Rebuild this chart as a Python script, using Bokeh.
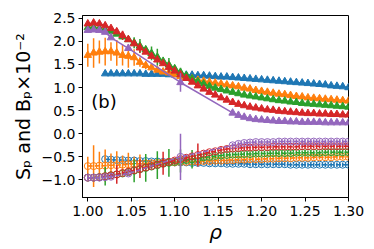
import numpy as np
from bokeh.plotting import figure
from bokeh.models import Range1d, FixedTicker, CustomJSTickFormatter, ColumnDataSource
from bokeh.core.properties import value
from bokeh.embed import file_html
from bokeh.resources import INLINE

# rho grid (46 points from 1.00 to 1.30)
rho = list(np.round(np.linspace(1.0, 1.3, 46), 5))

nan = float("nan")
# S_p (filled triangles, solid lines)
S_blue = [nan, nan, nan, 1.30, 1.30, 1.30, 1.30, 1.30, 1.30, 1.30, 1.29, 1.29, 1.29, 1.29, 1.28, 1.28,
          1.28, 1.27, 1.27, 1.26, 1.26, 1.25, 1.24, 1.23, 1.23, 1.22, 1.21, 1.20, 1.19, 1.18, 1.17,
          1.16, 1.15, 1.14, 1.13, 1.12, 1.11, 1.10, 1.09, 1.08, 1.07, 1.06, 1.04, 1.03, 1.02, 1.00]
S_orange = [1.70, 1.75, 1.77, 1.78, 1.78, 1.75, 1.70, 1.68, 1.65, 1.55, 1.48, 1.43, 1.38, 1.34, 1.32, 1.28,
            1.24, 1.21, 1.19, 1.16, 1.14, 1.12, 1.10, 1.08, 1.06, 1.04, 1.02, 0.99, 0.97, 0.94, 0.92,
            0.90, 0.88, 0.86, 0.85, 0.83, 0.81, 0.80, 0.78, 0.77, 0.76, 0.75, 0.74, 0.73, 0.72, 0.71]
S_green = [2.30, 2.30, 2.28, 2.25, 2.21, 2.16, 2.10, 2.04, 1.97, 1.90, 1.82, 1.74, 1.66, 1.57, 1.49, 1.41,
           1.33, 1.26, 1.19, 1.13, 1.08, 1.03, 0.99, 0.96, 0.93, 0.90, 0.87, 0.84, 0.82, 0.80, 0.78,
           0.76, 0.74, 0.72, 0.71, 0.69, 0.68, 0.66, 0.65, 0.64, 0.63, 0.62, 0.61, 0.60, 0.59, 0.58]
S_red = [2.38, 2.40, 2.38, 2.34, 2.28, 2.21, 2.13, 2.04, 1.95, 1.86, 1.77, 1.68, 1.60, 1.52, 1.44, 1.36,
         1.28, 1.20, 1.12, 1.04, 0.97, 0.90, 0.84, 0.78, 0.73, 0.68, 0.64, 0.61, 0.58, 0.56, 0.54,
         0.52, 0.51, 0.49, 0.48, 0.47, 0.46, 0.45, 0.44, 0.44, 0.43, 0.43, 0.42, 0.42, 0.41, 0.41]
S_purple = [2.24, 2.25, 2.24, 2.20, 2.08, nan, nan, 1.85, nan, nan, nan, nan, nan, nan, nan, nan,
            1.11, nan, nan, nan, nan, nan, nan, nan, nan, 0.45, 0.40, 0.36, 0.33, 0.31, 0.30,
            0.29, 0.28, 0.27, 0.27, 0.26, 0.26, 0.25, 0.25, 0.25, 0.25, 0.24, 0.24, 0.24, 0.24, 0.24]

# B_p (open circles, dashed lines)
B_blue = [nan, nan, nan, -0.55, -0.56, -0.57, -0.57, -0.58, -0.58, -0.59, -0.59, -0.60, -0.60, -0.61, -0.61, -0.62,
          -0.62, -0.62, -0.63, -0.63, -0.63, -0.64, -0.64, -0.64, -0.65, -0.65, -0.65, -0.65, -0.66, -0.66, -0.66,
          -0.66, -0.66, -0.66, -0.66, -0.67, -0.67, -0.67, -0.67, -0.67, -0.67, -0.67, -0.67, -0.67, -0.67, -0.67]
B_orange = [-0.70, -0.70, -0.69, -0.69, -0.68, -0.68, -0.67, -0.66, -0.65, -0.65, -0.64, -0.64, -0.63, -0.63, -0.62, -0.62,
            -0.61, -0.61, -0.60, -0.60, -0.59, -0.59, -0.58, -0.58, -0.57, -0.57, -0.56, -0.56, -0.55, -0.55, -0.55,
            -0.54, -0.54, -0.53, -0.53, -0.53, -0.52, -0.52, -0.52, -0.51, -0.51, -0.51, -0.51, -0.50, -0.50, -0.50]
B_green = [-0.95, -0.95, -0.94, -0.92, -0.90, -0.88, -0.86, -0.83, -0.80, -0.77, -0.74, -0.71, -0.68, -0.65, -0.63, -0.61,
           -0.59, -0.57, -0.55, -0.53, -0.51, -0.50, -0.48, -0.47, -0.46, -0.45, -0.45, -0.44, -0.44, -0.43, -0.43,
           -0.43, -0.42, -0.42, -0.42, -0.42, -0.41, -0.41, -0.41, -0.41, -0.41, -0.40, -0.40, -0.40, -0.40, -0.40]
B_red = [-0.95, -0.95, -0.94, -0.92, -0.90, -0.88, -0.85, -0.82, -0.79, -0.76, -0.73, -0.70, -0.67, -0.64, -0.61, -0.58,
         -0.55, -0.52, -0.49, -0.46, -0.43, -0.40, -0.38, -0.35, -0.33, -0.32, -0.31, -0.30, -0.30, -0.29, -0.29,
         -0.29, -0.28, -0.28, -0.28, -0.28, -0.28, -0.27, -0.27, -0.27, -0.27, -0.27, -0.27, -0.27, -0.27, -0.27]
B_purple = [-0.95, -0.95, -0.95, -0.94, -0.93, nan, nan, -0.86, nan, nan, nan, nan, nan, nan, nan, nan,
            -0.50, nan, nan, nan, nan, nan, nan, nan, nan, -0.25, -0.22, -0.20, -0.19, -0.18, -0.18,
            -0.18, -0.18, -0.17, -0.17, -0.17, -0.17, -0.17, -0.17, -0.17, -0.17, -0.17, -0.17, -0.17, -0.17, -0.17]

# error bars (half-heights)
eS_blue = [0.02] * 46
eS_orange = [0.25, 0.32, 0.25, 0.30, 0.20, 0.28, 0.22, 0.25, 0.18, 0.10, 0.08] + [0.03] * 35
eS_green = [0.03] * 8 + [0.12, 0.15, 0.05, 0.15, 0.18, 0.05, 0.15, 0.05, 0.10] + [0.03] * 29
eS_red = [0.03] * 6 + [0.10, 0.03, 0.03, 0.10, 0.03, 0.03, 0.03, 0.03, 0.12] + [0.03] * 31
eS_purple = [0.03] * 16 + [0.20] + [0.03] * 29
eB_blue = [0.05] * 46
eB_orange = [0.20, 0.45, 0.30, 0.35, 0.25, 0.30, 0.20, 0.25, 0.15, 0.20, 0.08] + [0.05] * 35
eB_green = [0.05] * 3 + [0.20, 0.05, 0.05, 0.05, 0.05, 0.25, 0.05, 0.30, 0.05, 0.30, 0.05, 0.30, 0.05,
                         0.25, 0.05, 0.20] + [0.05] * 27
eB_red = [0.05] * 5 + [0.20, 0.05, 0.05, 0.05, 0.20, 0.05, 0.05, 0.05, 0.25, 0.05, 0.05, 0.05, 0.05, 0.05,
                       0.25] + [0.05] * 26
eB_purple = [0.05] * 16 + [0.50] + [0.05] * 29

colors = ["#1f77b4", "#ff7f0e", "#2ca02c", "#d62728", "#9467bd"]
S_all = [S_blue, S_orange, S_green, S_red, S_purple]
B_all = [B_blue, B_orange, B_green, B_red, B_purple]
eS_all = [eS_blue, eS_orange, eS_green, eS_red, eS_purple]
eB_all = [eB_blue, eB_orange, eB_green, eB_red, eB_purple]

p = figure(width=374, height=249, output_backend="svg", toolbar_location=None,
           x_range=Range1d(0.9939, 1.30), y_range=Range1d(-1.38, 2.56),
           min_border_left=82, min_border_right=26, min_border_top=15, min_border_bottom=52)
p.background_fill_color = "white"
p.border_fill_color = "white"
p.outline_line_color = "black"
p.outline_line_width = 1
p.grid.visible = False


def clean(xs, ys, es):
    xx, yy, ee = [], [], []
    for a, b, c in zip(xs, ys, es):
        if not np.isnan(b):
            xx.append(a); yy.append(b); ee.append(c)
    return xx, yy, ee


for c, S, B, eS, eB in zip(colors, S_all, B_all, eS_all, eB_all):
    # S_p
    xs, ys, es = clean(rho, S, eS)
    src = ColumnDataSource(dict(x=xs, y=ys, lo=[y - e for y, e in zip(ys, es)], hi=[y + e for y, e in zip(ys, es)]))
    p.line("x", "y", source=src, color=c, line_width=1.5)
    p.segment(x0="x", y0="lo", x1="x", y1="hi", source=src, color=c, line_width=1.5)
    p.scatter("x", "y", source=src, marker="triangle", size=7.5, fill_color=c, line_color=c)
    # B_p
    xs, ys, es = clean(rho, B, eB)
    src = ColumnDataSource(dict(x=xs, y=ys, lo=[y - e for y, e in zip(ys, es)], hi=[y + e for y, e in zip(ys, es)]))
    p.line("x", "y", source=src, color=c, line_width=1.5, line_dash="5 2")
    p.segment(x0="x", y0="lo", x1="x", y1="hi", source=src, color=c, line_width=1.5)
    p.scatter("x", "y", source=src, marker="circle", size=7, fill_color=None, line_color=c, line_width=1)

p.text(x=[1.004], y=[0.69], text=["(b)"], text_font=value("DejaVu Sans"), text_font_size="18px",
       text_baseline="middle", text_align="left", text_color="black")

for ax in (p.xaxis[0], p.yaxis[0]):
    ax.axis_line_color = "black"
    ax.major_tick_line_color = "black"
    ax.major_tick_out = 4
    ax.major_tick_in = 0
    ax.minor_tick_line_color = None
    ax.major_label_text_font = "DejaVu Sans"
    ax.major_label_text_font_size = "14px"
    ax.major_label_text_color = "black"
    ax.axis_label_text_font = "DejaVu Sans"
    ax.axis_label_text_font_size = "19px"
    ax.axis_label_text_font_style = "normal"
    ax.axis_label_text_color = "black"

p.xaxis.ticker = FixedTicker(ticks=[1.0, 1.05, 1.1, 1.15, 1.2, 1.25, 1.3])
p.yaxis.ticker = FixedTicker(ticks=[-1.0, -0.5, 0.0, 0.5, 1.0, 1.5, 2.0, 2.5])
p.xaxis.formatter = CustomJSTickFormatter(code="return tick.toFixed(2);")
p.yaxis.formatter = CustomJSTickFormatter(code="return (tick < 0 ? '\u2212' : '') + Math.abs(tick).toFixed(1);")
p.xaxis.axis_label = "ρ"
p.xaxis.axis_label_text_font_style = "italic"
p.xaxis.axis_label_text_font_size = "20px"
p.yaxis.axis_label = "Sₚ and Bₚ×10⁻²"
p.xaxis.major_label_standoff = 4
p.yaxis.major_label_standoff = 3
p.xaxis.axis_label_standoff = 1
p.yaxis.axis_label_standoff = 5

open("out.html", "w").write(file_html(p, INLINE))
